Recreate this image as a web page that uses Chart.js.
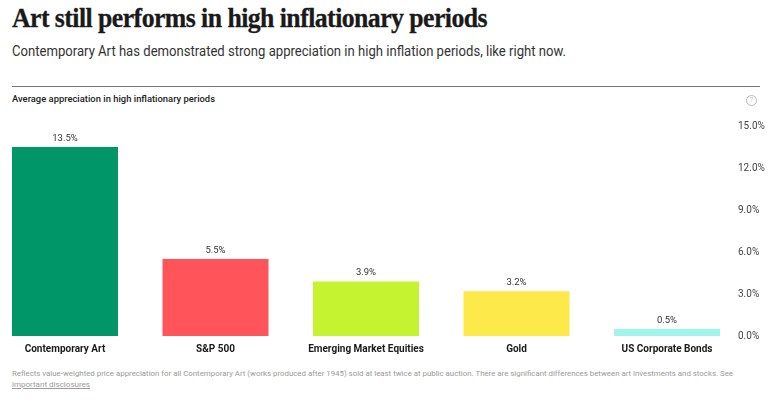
<!DOCTYPE html>
<html>
<head>
<meta charset="utf-8">
<script src="https://cdn.jsdelivr.net/npm/chart.js@4.4.1/dist/chart.umd.min.js"></script>
<style>
  html, body { margin: 0; padding: 0; background: #fff; width: 768px; height: 403px; overflow: hidden; }
  .txt { position: absolute; left: 12px; white-space: nowrap; transform-origin: 0 50%; }
  #title { top: 2px; font-family: "Liberation Serif", serif; font-weight: bold; font-size: 28px; color: #1a1a1a; letter-spacing: -0.6px; -webkit-text-stroke: 0.3px #1a1a1a; }
  #subtitle { top: 43px; font-family: "Roboto", "Liberation Sans", sans-serif; font-size: 14px; color: #333; }
  #rule { position: absolute; left: 12px; width: 748px; top: 86px; height: 0; border-top: 1.5px solid #777; }
  #label { top: 94px; font-family: "Roboto", sans-serif; font-weight: 500; font-size: 8.5px; color: #222; }
  #help { position: absolute; left: 746px; top: 95px; width: 9px; height: 9px; border: 1px solid #bbb; border-radius: 50%; font: 7px "Roboto", sans-serif; color: #bbb; text-align: center; line-height: 9px; }
  #wrap { position: absolute; left: 0; top: 110px; width: 768px; height: 250px; }
  #note { top: 369px; font-family: "Roboto", sans-serif; font-size: 8px; color: #9a9a9a; }
  #note2 { top: 380px; font-family: "Roboto", sans-serif; font-size: 8px; color: #9a9a9a; text-decoration: underline; }
</style>
</head>
<body>
<div id="title" class="txt">Art still performs in high inflationary periods</div>
<div id="subtitle" class="txt">Contemporary Art has demonstrated strong appreciation in high inflation periods, like right now.</div>
<div id="rule"></div>
<div id="label" class="txt">Average appreciation in high inflationary periods</div>
<div id="help">?</div>
<div id="wrap"><canvas id="c"></canvas></div>
<div id="note" class="txt">Reflects value-weighted price appreciation for all Contemporary Art (works produced after 1945) sold at least twice at public auction. There are significant differences between art investments and stocks. See</div>
<div id="note2" class="txt">important disclosures</div>
<script>
const categories = ["Contemporary Art", "S&P 500", "Emerging Market Equities", "Gold", "US Corporate Bonds"];
const values = [13.5, 5.5, 3.9, 3.2, 0.5];
const barColors = ["#009668", "#ff5459", "#c6f330", "#fde94a", "#9ff4ec"];
const yTicks = [0, 3, 6, 9, 12, 15];

// fit header texts to reference widths
function fitWidth(id, w) {
  const el = document.getElementById(id);
  const r = el.getBoundingClientRect().width;
  el.style.transform = 'scaleX(' + (w / r) + ')';
}
fitWidth('title', 475);
fitWidth('subtitle', 554);
fitWidth('label', 203);
fitWidth('note', 721);
fitWidth('note2', 78);

const valueLabels = {
  id: 'valueLabels',
  afterDatasetsDraw(chart) {
    const ctx = chart.ctx;
    const meta = chart.getDatasetMeta(0);
    ctx.save();
    ctx.font = '9.5px Roboto, sans-serif';
    ctx.fillStyle = '#333';
    ctx.textAlign = 'center';
    ctx.textBaseline = 'bottom';
    meta.data.forEach((bar, i) => {
      ctx.fillText(values[i].toFixed(1) + '%', bar.x, bar.y - 4);
    });
    ctx.restore();
  }
};

const k = 150.5, left = 12, right = 732;
const xMin = -53 / k;
const xMax = xMin + (right - left) / k;

new Chart(document.getElementById('c'), {
  type: 'bar',
  data: {
    datasets: [{
      data: values.map((v, i) => ({ x: i, y: v })),
      backgroundColor: barColors,
      borderWidth: 0,
      categoryPercentage: 1,
      barPercentage: 106 / 150.5
    }]
  },
  options: {
    responsive: true,
    maintainAspectRatio: false,
    animation: false,
    layout: { padding: { left: left, top: 16, right: 0, bottom: 0 } },
    plugins: { legend: { display: false }, tooltip: { enabled: false } },
    scales: {
      x: {
        type: 'linear',
        offset: false,
        min: xMin,
        max: xMax,
        grid: { display: false, drawTicks: false, offset: false },
        border: { display: false },
        afterBuildTicks: s => { s.ticks = categories.map((_, i) => ({ value: i })); },
        afterFit: s => { s.height = 24; },
        ticks: {
          autoSkip: false, maxRotation: 0, padding: 7,
          color: '#1a1a1a',
          font: { family: 'Roboto', weight: 'bold', size: 10 },
          callback: v => categories[v]
        }
      },
      y: {
        position: 'right',
        min: 0, max: 15,
        grid: { display: false, drawTicks: false },
        border: { display: false },
        afterBuildTicks: s => { s.ticks = yTicks.map(v => ({ value: v })); },
        afterFit: s => { s.width = 36; },
        ticks: {
          padding: 6,
          color: '#444',
          font: { family: 'Roboto', size: 10 },
          callback: v => v.toFixed(1) + '%'
        }
      }
    }
  },
  plugins: [valueLabels]
});
</script>
</body>
</html>
